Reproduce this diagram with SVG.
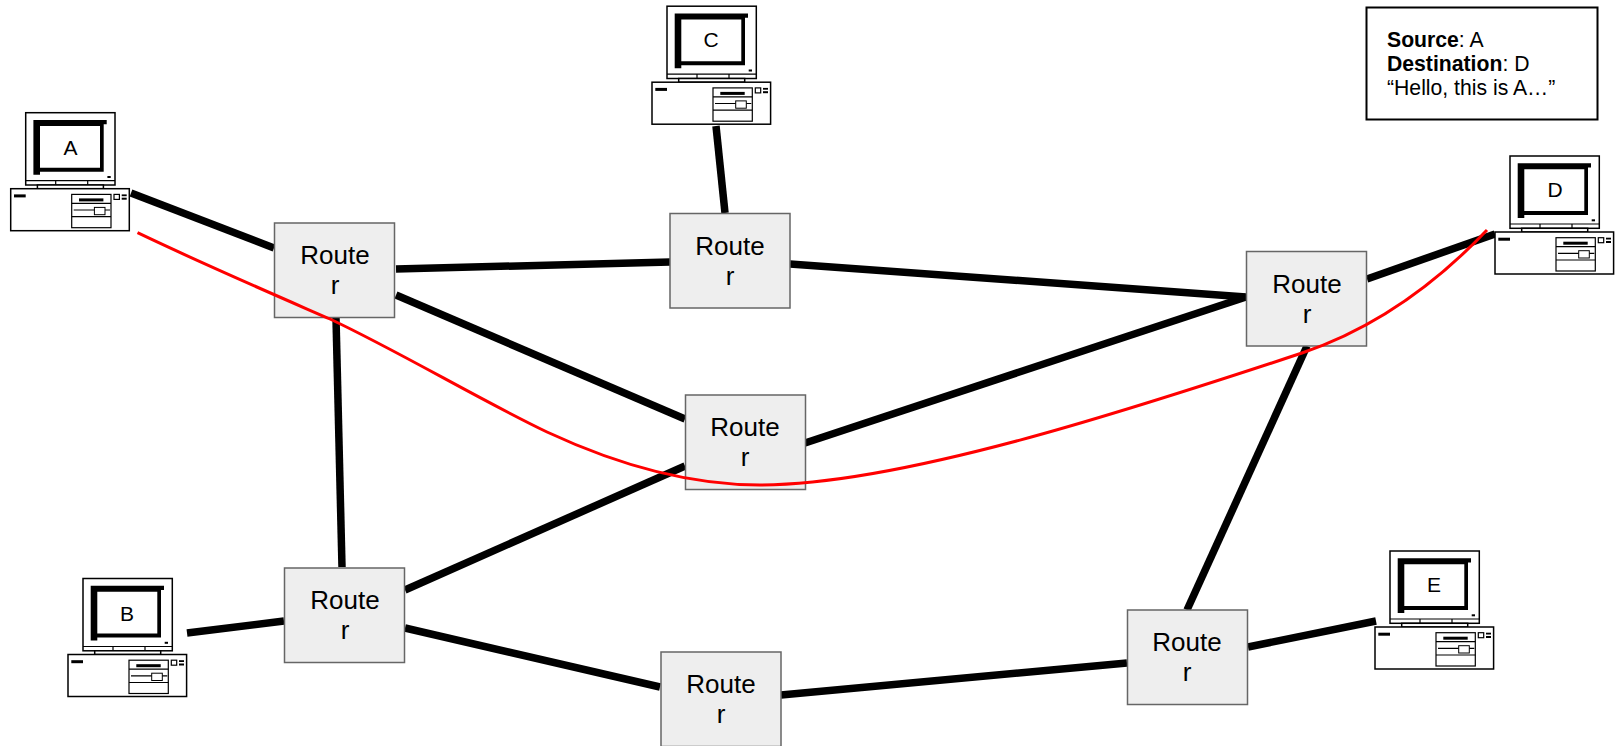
<svg xmlns="http://www.w3.org/2000/svg" width="1615" height="746" viewBox="0 0 1615 746">
<style>
text{font-family:"Liberation Sans",Arial,sans-serif;fill:#000}
.r rect{fill:#eee;stroke:#666;stroke-width:1.5}
.r text{font-size:26px;text-anchor:middle}
.c text{font-size:21px;text-anchor:middle}
#links line{stroke:#000;stroke-width:7.5;fill:none}
.o{fill:#fff;stroke:#000;stroke-width:1.5}
.t{fill:none;stroke:#000;stroke-width:1.2}
</style>
<defs>
<g id="pc">
<rect class="o" x="15" y="0" width="89.3" height="72.3"/>
<path class="t" d="M15 68H104.3M45 68V72M77 68V72"/>
<path fill="#000" fill-rule="evenodd" d="M22.7 7.3H96V11.500H93V59H29.3V62H22.7ZM29.3 13.3V55H89.3V13.3Z"/>
<rect x="96.7" y="63.3" width="3.3" height="2" fill="#000"/>
<rect class="o" x="26.7" y="72.3" width="66" height="3.7"/>
<rect class="o" x="0" y="76" width="118.6" height="42"/>
<rect x="3.3" y="81.7" width="11.7" height="3" fill="#000"/>
<rect class="t" x="61" y="81.7" width="39.3" height="33.3"/>
<path class="t" d="M61 90.7H100.3M61 104H100.3M63 97.3H99.3"/>
<rect x="68.3" y="85.7" width="24.4" height="3" fill="#000"/>
<rect x="83.7" y="94.7" width="10.6" height="7.3" fill="#fff" stroke="#000" stroke-width="1"/>
<rect class="t" x="103.3" y="81.7" width="5.4" height="5"/>
<rect x="111" y="81.7" width="5" height="1.8" fill="#000"/>
<rect x="111" y="85" width="5" height="2" fill="#000"/>
</g>
</defs>
<g id="links">
<line x1="131" y1="193" x2="274" y2="248"/>
<line x1="396" y1="269" x2="670" y2="262"/>
<line x1="396" y1="295" x2="685" y2="419"/>
<line x1="336" y1="318" x2="342" y2="567"/>
<line x1="716" y1="126" x2="725" y2="213"/>
<line x1="790" y1="264" x2="1246" y2="297"/>
<line x1="805" y1="443" x2="1246" y2="297"/>
<line x1="405" y1="590" x2="685" y2="466"/>
<line x1="187" y1="633" x2="284" y2="621"/>
<line x1="405" y1="628" x2="660" y2="687"/>
<line x1="781" y1="695" x2="1127" y2="663"/>
<line x1="1187" y1="610" x2="1307" y2="346"/>
<line x1="1248" y1="647" x2="1376" y2="621"/>
<line x1="1367" y1="279" x2="1495" y2="234"/>
</g>
<g id="pcA" class="c"><use href="#pc" x="10.700" y="112.700"/><text x="70.500" y="155">A</text></g>
<g id="pcB" class="c"><use href="#pc" x="68" y="578.500"/><text x="127" y="621">B</text></g>
<g id="pcC" class="c"><use href="#pc" x="652" y="6.200"/><text x="711" y="47">C</text></g>
<g id="pcD" class="c"><use href="#pc" x="1495" y="156"/><text x="1555" y="197">D</text></g>
<g id="pcE" class="c"><use href="#pc" x="1375" y="551"/><text x="1434" y="592">E</text></g>
<g id="r1" class="r"><rect x="274.500" y="223" width="120" height="94.500"/><text x="335" y="263.500">Route</text><text x="335" y="293.500">r</text></g>
<g id="r2" class="r"><rect x="670" y="213.500" width="120" height="94.500"/><text x="730" y="254.500">Route</text><text x="730" y="284.500">r</text></g>
<g id="r3" class="r"><rect x="1246.500" y="251.500" width="120" height="94.500"/><text x="1307" y="292.500">Route</text><text x="1307" y="322.500">r</text></g>
<g id="r4" class="r"><rect x="685.500" y="395" width="120" height="94.500"/><text x="745" y="435.500">Route</text><text x="745" y="465.500">r</text></g>
<g id="r5" class="r"><rect x="284.500" y="568" width="120" height="94.500"/><text x="345" y="608.500">Route</text><text x="345" y="638.500">r</text></g>
<g id="r6" class="r"><rect x="1127.500" y="610" width="120" height="94.500"/><text x="1187" y="650.500">Route</text><text x="1187" y="680.500">r</text></g>
<g id="r7" class="r"><rect x="661" y="652" width="120" height="94.500"/><text x="721" y="693">Route</text><text x="721" y="723">r</text></g>
<path id="route" d="M137.500 232.700C205 265 275 295 330 319C400 352 480 400 547 432C620 466 690 485 760 485C900 485 1130 410 1302 353C1370 330 1430 290 1487 230" fill="none" stroke="#f00" stroke-width="3"/>
<g id="note">
<rect x="1366.500" y="7.500" width="231" height="112" fill="#fff" stroke="#000" stroke-width="2"/>
<text x="1387" y="46.500" font-size="21.200"><tspan font-weight="bold">Source</tspan>: A</text>
<text x="1387" y="70.700" font-size="21.200"><tspan font-weight="bold">Destination</tspan>: D</text>
<text x="1387" y="95" font-size="21.200">“Hello, this is A…”</text>
</g>
</svg>
